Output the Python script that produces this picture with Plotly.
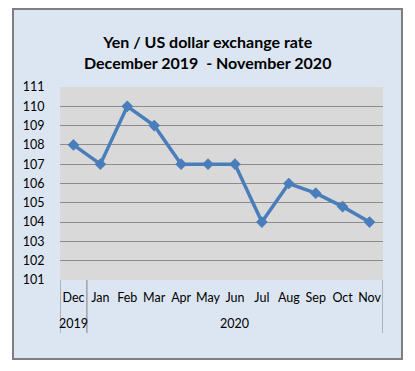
import plotly.graph_objects as go

months = ["Dec", "Jan", "Feb", "Mar", "Apr", "May", "Jun", "Jul", "Aug", "Sep", "Oct", "Nov"]
rates = [108, 107, 110, 109, 107, 107, 107, 104, 106, 105.5, 104.8, 104]
years = ["2019", "2020"]

W, H = 415, 371
L, R, T, B = 60, 32, 87, 91
pw, ph = W - L - R, H - T - B

def px_to_paper_x(px):
    return (px - L) / pw

def px_to_paper_y(py):
    return 1 - (py - T) / ph

x = list(range(len(months)))

fig = go.Figure()
fig.add_trace(go.Scatter(
    x=x, y=rates, mode="lines+markers",
    line=dict(color="#4a7ebb", width=3.5),
    marker=dict(symbol="diamond", size=9, color="#4a7ebb"),
    hoverinfo="skip",
))

font_family = "Lato, 'Open Sans', sans-serif"

shapes = [
    # outer frame
    dict(type="rect", xref="paper", yref="paper",
         x0=px_to_paper_x(13), x1=px_to_paper_x(402),
         y0=px_to_paper_y(359), y1=px_to_paper_y(9),
         line=dict(color="#7f7f7f", width=2), fillcolor="#dce6f2", layer="below"),
    # plot area
    dict(type="rect", xref="paper", yref="paper", x0=0, x1=1, y0=0, y1=1,
         line=dict(width=0), fillcolor="#d9d9d9", layer="below"),
]
# category-group separators
for xv in [-0.5, 0.5, 11.5]:
    shapes.append(dict(type="line", xref="x", yref="paper", x0=xv, x1=xv,
                       y0=0, y1=px_to_paper_y(333),
                       line=dict(color="#808080", width=1)))

annotations = [
    dict(text="<b>Yen / US dollar exchange rate</b><br><b>December 2019  - November 2020</b>",
         xref="paper", yref="paper", x=px_to_paper_x(207), y=px_to_paper_y(52),
         showarrow=False, font=dict(size=16, color="#000000", family=font_family),
         xanchor="center", yanchor="middle"),
    dict(text=years[0], xref="x", yref="paper", x=0, y=px_to_paper_y(323),
         xanchor="center", yanchor="middle",
         showarrow=False, font=dict(size=12.5, color="#000000", family=font_family)),
    dict(text=years[1], xref="x", yref="paper", x=6, y=px_to_paper_y(323),
         xanchor="center", yanchor="middle",
         showarrow=False, font=dict(size=12.5, color="#000000", family=font_family)),
]

fig.update_layout(
    width=W, height=H,
    margin=dict(l=L, r=R, t=T, b=B),
    paper_bgcolor="white",
    plot_bgcolor="rgba(0,0,0,0)",
    showlegend=False,
    shapes=shapes,
    annotations=annotations,
    font=dict(family=font_family, size=12.5, color="#000000"),
    xaxis=dict(range=[-0.5, 11.5], tickmode="array", tickvals=x, ticktext=months,
               showgrid=False, zeroline=False, showline=False,
               ticks="outside", ticklen=6, tickcolor="rgba(0,0,0,0)",
               tickfont=dict(size=12.5, color="#000000")),
    yaxis=dict(range=[101, 111], dtick=1, tick0=101,
               showgrid=True, gridcolor="#8c8c8c", gridwidth=1,
               zeroline=False, showline=False,
               ticks="outside", ticklen=12, tickcolor="rgba(0,0,0,0)",
               tickfont=dict(size=12.5, color="#000000")),
)

fig.write_html("out.html", config={"displayModeBar": False},
               post_script="document.body.style.margin='0';")
